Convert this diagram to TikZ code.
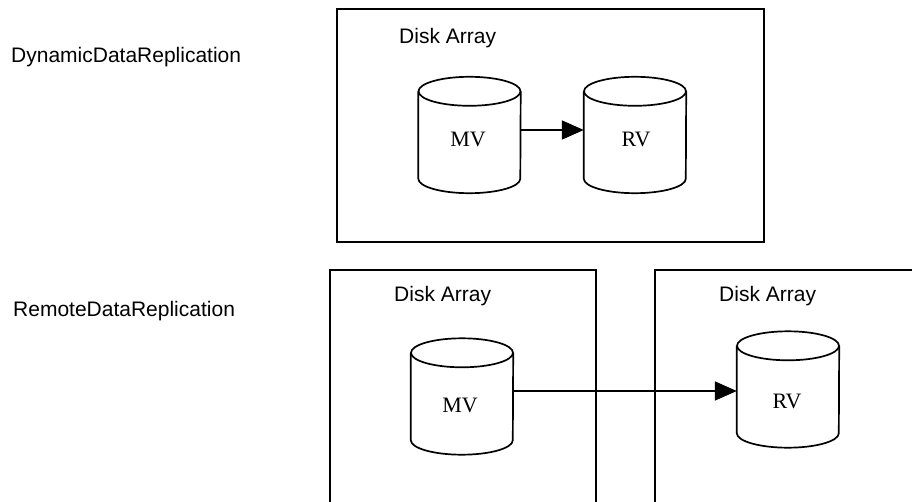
\documentclass[tikz,border=0pt]{standalone}
\usepackage{fontspec}
\setmainfont{Liberation Sans}
\newfontfamily\serifface{Liberation Serif}
\usetikzlibrary{arrows.meta}
\tikzset{
  frame/.style={draw=black, line width=1.9pt},
  cylline/.style={draw=black, line width=1.7pt},
  cylbody/.style={rectangle, inner sep=0pt, minimum width=102pt, minimum height=87pt},
  sanslabel/.style={inner sep=0pt, anchor=base west, font=\fontsize{21}{25}\selectfont},
  voltext/.style={inner sep=0pt, anchor=base, font=\serifface\fontsize{22}{26}\selectfont},
  arr/.style={draw=black, line width=1.7pt, -{Triangle[length=22pt,width=19pt]}}
}
\newcommand{\drawcyl}[1]{%
  \draw[cylline] (#1.north) ellipse (51pt and 14.5pt);
  \draw[cylline] (#1.north west) -- (#1.south west)
     arc[start angle=180, end angle=360, x radius=51pt, y radius=14.5pt]
     -- (#1.north east);
}
\begin{document}
\begin{tikzpicture}[x=1pt,y=1pt]
\useasboundingbox (0,0) rectangle (912,501);
\clip (0,0) rectangle (912,501);
% frames
\draw[frame] (337,492) rectangle (764,259);
\draw[frame] (330,-20) -- (330,231) -- (596,231) -- (596,-20);
\draw[frame] (655,-20) -- (655,231) -- (930,231);
% row labels
\node[sanslabel] (dyn) at (11,438) {DynamicDataReplication};
\node[sanslabel] (rem) at (13,185) {RemoteDataReplication};
% disk array labels
\node[sanslabel] (da1) at (399,457) {Disk Array};
\node[sanslabel] (da2) at (394,200) {Disk Array};
\node[sanslabel] (da3) at (719,200) {Disk Array};
% cylinders (body from top cap centre to bottom cap centre)
\node[cylbody] (mv1) at (469.5,366) {};
\node[cylbody] (rv1) at (635,366) {};
\node[cylbody] (mv2) at (462,104.5) {};
\node[cylbody] (rv2) at (788,111.5) {};
\drawcyl{mv1}
\drawcyl{rv1}
\drawcyl{mv2}
\drawcyl{rv2}
\node[voltext] (mv1t) at (468,354) {MV};
\node[voltext] (rv1t) at (636,354) {RV};
\node[voltext] (mv2t) at (460,89) {MV};
\node[voltext] (rv2t) at (787,92.5) {RV};
% arrows
\draw[arr] ([yshift=5pt]mv1.east) -- ([yshift=5pt]rv1.west);
\draw[arr] ([yshift=5.5pt]mv2.east) -- ([yshift=5.5pt]mv2.east -| rv2.west);
\end{tikzpicture}
\end{document}
